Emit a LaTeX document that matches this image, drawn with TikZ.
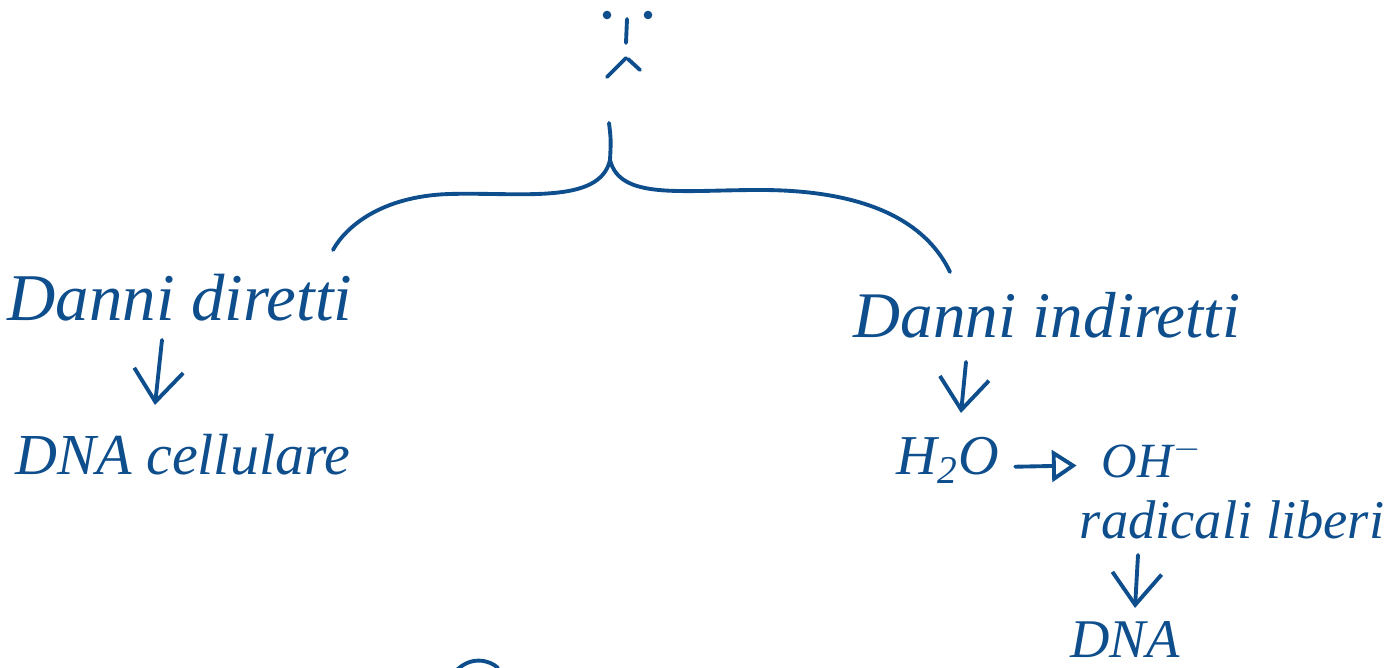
\documentclass[tikz,border=0pt]{standalone}
\usepackage{fontspec}
\setmainfont{Liberation Serif}
\usetikzlibrary{arrows.meta}
\definecolor{ink}{RGB}{14,78,140}
\begin{document}
\begin{tikzpicture}[x=0.01cm,y=-0.01cm,
  pen/.style={draw=ink,line width=1.1pt,line cap=round,line join=round},
  lbl/.style={text=ink,font=\itshape\fontsize{#1}{#1}\selectfont,inner sep=0pt},
  vdown/.style={pen,-{Straight Barb[length=9pt,width=14pt,line width=1.1pt]}},
  tri/.style={pen,-{Triangle[open,length=7pt,width=9pt,line width=1.1pt]}}]
\useasboundingbox (0,0) rectangle (1400,668);
% sad face
\fill[ink] (607,15) circle (4.3);
\fill[ink] (648,15) circle (4.3);
\draw[pen] (627,19) -- (626,43);
\draw[pen] (607,77) -- (626,58);
\draw[pen] (628,59) -- (640,70);
% brace
\coordinate (top) at (609,123);
\coordinate (mid) at (610,160);
\draw[pen] (top) .. controls (611,140) .. (mid);
\draw[pen] (mid) .. controls (600,205) and (520,192) .. (450,194)
  .. controls (380,196) and (345,228) .. (333,250);
\draw[pen] (mid) .. controls (620,200) and (680,190) .. (760,190)
  .. controls (880,190) and (930,230) .. (950,272);
% labels
\node[lbl=19] (dd) at (180,298) {Danni diretti};
\node[lbl=16.5] (dc) at (183,455) {DNA cellulare};
\node[lbl=18.5] (di) at (1047,315) {Danni indiretti};
\node[lbl=16] (h2o) at (948,460) {H\textsubscript{2}O};
\node[lbl=14] (oh) at (1152,458) {OH\textsuperscript{$-$}};
\node[lbl=15.5] (rl) at (1232,520) {radicali liberi};
\node[lbl=15.5] (dna) at (1125,640) {DNA};
% arrows
\coordinate (a1s) at (162,340); \coordinate (a1e) at (155,405);
\coordinate (a2s) at (966,362); \coordinate (a2e) at (961,413);
\coordinate (a4s) at (1138,555); \coordinate (a4e) at (1135,608);
\draw[vdown] (a1s) -- (a1e);
\draw[vdown] (a2s) -- (a2e);
\draw[tri,shorten <=4.3pt,shorten >=7pt] ([yshift=-2pt]h2o.east) -- ([yshift=-2pt]oh.west);
\draw[vdown] (a4s) -- (a4e);
% partial arc at bottom
\draw[pen] (455,672) .. controls (470,655) and (490,660) .. (498,668);
\end{tikzpicture}
\end{document}
